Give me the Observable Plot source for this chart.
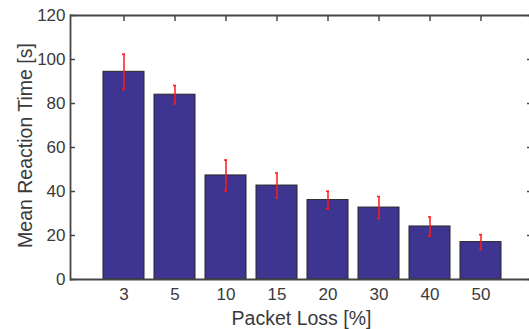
<!DOCTYPE html>
<html>
<head>
<meta charset="utf-8">
<script src="https://cdn.jsdelivr.net/npm/d3@7"></script>
<script src="https://cdn.jsdelivr.net/npm/@observablehq/plot@0.6"></script>
<style>
  html, body { margin: 0; padding: 0; background: #fff; }
  #chart svg { display: block; }
</style>
</head>
<body>
<div id="chart"></div>
<script>
const categories = ["3", "5", "10", "15", "20", "30", "40", "50"];
const means = [94.4, 84.0, 47.3, 42.7, 36.1, 32.7, 24.1, 17.0];
const errors = [8.0, 4.2, 7.0, 5.7, 4.0, 5.0, 4.3, 3.4];
const yTicks = [0, 20, 40, 60, 80, 100, 120];
const xLabel = "Packet Loss [%]";
const yLabel = "Mean Reaction Time [s]";

const data = categories.map((c, i) => ({cat: c, mean: means[i], err: errors[i]}));

const axisColor = "#454545";
const textColor = "#3a3a3a";

const chart = Plot.plot({
  width: 529,
  height: 329,
  marginLeft: 70,
  marginRight: 0,
  marginTop: 15,
  marginBottom: 50,
  style: {fontFamily: "'Liberation Sans', Arial, Helvetica, sans-serif", color: textColor, background: "#fff"},
  x: {type: "band", domain: categories, range: [70.5, 532.7], paddingInner: 0.2, paddingOuter: 0.6, align: 0.5},
  y: {domain: [0, 120], range: [279, 15]},
  marks: [
    Plot.axisX({anchor: "top", tickSize: -5, tickFormat: () => "", stroke: axisColor, strokeWidth: 1.5, label: null}),
    Plot.axisX({anchor: "bottom", tickSize: 0, tickPadding: 8.5, fontSize: 17, label: null, fill: textColor}),
    Plot.axisY({anchor: "left", ticks: yTicks, tickSize: -5, tickFormat: () => "", stroke: axisColor, strokeWidth: 1.5, label: null}),
    Plot.axisY({anchor: "left", ticks: yTicks, tickSize: 0, tickPadding: 5, fontSize: 17, label: null, fill: textColor}),
    Plot.axisY({anchor: "right", ticks: yTicks, tickSize: -3, tickFormat: () => "", stroke: axisColor, strokeWidth: 1.5, label: null}),
    Plot.barY(data, {x: "cat", y: "mean", fill: "#3d3590", stroke: "#262626", strokeWidth: 1}),
    Plot.ruleX(data, {x: "cat", y1: d => d.mean - d.err, y2: d => d.mean + d.err, stroke: "#ff1a1a", strokeWidth: 1.5}),
    Plot.tickY(data, {x: "cat", y: d => d.mean + d.err, stroke: "#ff1a1a", strokeWidth: 1.5, insetLeft: 19, insetRight: 19}),
    Plot.tickY(data, {x: "cat", y: d => d.mean - d.err, stroke: "#ff1a1a", strokeWidth: 1.5, insetLeft: 19, insetRight: 19}),
    Plot.ruleY([0, 120], {stroke: axisColor, strokeWidth: 1.8}),
    Plot.frame({anchor: "left", stroke: axisColor, strokeWidth: 1.8}),
    Plot.text([xLabel], {frameAnchor: "bottom", textAnchor: "middle", lineAnchor: "middle", dx: 1.5, dy: 39.5, fontSize: 19.5, fill: textColor}),
    Plot.text([yLabel], {frameAnchor: "left", textAnchor: "middle", lineAnchor: "middle", rotate: -90, dx: -44.5, dy: -2, fontSize: 19.5, fill: textColor})
  ]
});
document.getElementById("chart").appendChild(chart);
</script>
</body>
</html>
